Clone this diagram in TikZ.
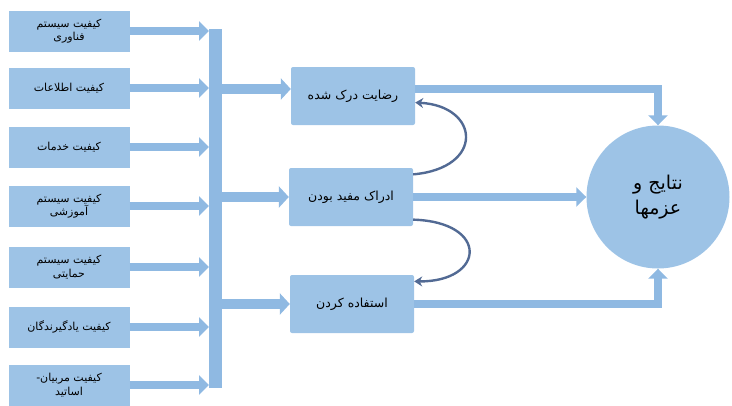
\documentclass[tikz,border=0pt]{standalone}
\usepackage{fontspec}
\newfontfamily\arabicfont[Script=Arabic]{DejaVu Sans}
\TeXXeTstate=1
\usetikzlibrary{arrows.meta}
\definecolor{boxblue}{RGB}{157,195,230}
\definecolor{arrblue}{RGB}{143,185,226}
\definecolor{curveblue}{RGB}{82,106,148}
\newcommand{\fa}[1]{{\arabicfont\beginR #1\endR}}

\begin{document}
\begin{tikzpicture}[x=1pt,y=-1pt]
\tikzstyle{every node}+=[inner sep=0pt]
\tikzstyle{factor}=[fill=boxblue, minimum width=121pt, minimum height=41pt, align=center, font=\fontsize{11}{13.5}\selectfont]
\tikzstyle{stage}=[fill=boxblue, rounded corners=2pt, minimum width=124pt, minimum height=58pt, font=\fontsize{12.5}{15}\selectfont]
\tikzstyle{fat}=[draw=arrblue, line width=8pt, -{Triangle[width=19pt,length=10pt]}]
\tikzstyle{loop}=[draw=curveblue, line width=2.4pt, -{Stealth[width=10pt,length=8pt]}]
\useasboundingbox (0,0) rectangle (732,405);
% left column
\node[factor] (f1) at (69,31) {\fa{کیفیت سیستم}\\\fa{فناوری}};
\node[factor] (f2) at (69,88) {\fa{کیفیت اطلاعات}};
\node[factor] (f3) at (69,147) {\fa{کیفیت خدمات}};
\node[factor] (f4) at (69,206) {\fa{کیفیت سیستم}\\\fa{آموزشی}};
\node[factor] (f5) at (69,267) {\fa{کیفیت سیستم}\\\fa{حمایتی}};
\node[factor] (f6) at (69,327) {\fa{کیفیت یادگیرندگان}};
\node[factor] (f7) at (69,385) {\fa{کیفیت مربیان-}\\\fa{اساتید}};
% middle column
\node[stage] (sat) at (353,96) {\fa{رضایت درک شده}};
\node[stage] (use) at (351,197) {\fa{ادراک مفید بودن}};
\node[stage] (act) at (352,304) {\fa{استفاده کردن}};
% result
\node[circle, fill=boxblue, minimum size=143pt, align=center, font=\fontsize{19}{25}\selectfont] (res) at (658,197) {\fa{نتایج و}\\\fa{عزمها}};
% collecting bar
\coordinate (bartop) at (215,29);
\coordinate (barbot) at (215,388);
\coordinate (barL) at (209,0);
\coordinate (barR) at (221,0);
\coordinate (satY) at (0,89);
\draw[arrblue, line width=13pt] (bartop) -- (barbot);
\foreach \i in {1,...,7}
  \draw[fat] (f\i.east) -- (f\i.east -| barL);
\draw[fat, line width=10pt, -{Triangle[width=21pt,length=10pt]}] (barR |- satY) -- (sat.west |- satY);
\draw[fat, line width=10pt, -{Triangle[width=21pt,length=10pt]}] (barR |- use.west) -- (use.west);
\draw[fat, line width=10pt, -{Triangle[width=21pt,length=10pt]}] (barR |- act.west) -- (act.west);
% to the result
\draw[fat] (sat.east |- satY) -| (res.north);
\draw[fat] (use.east) -- (res.west);
\draw[fat] (act.east) -| (res.south);
% feedback curves
\draw[loop] (use.20) .. controls (485,168) and (480,106) .. (sat.-6);
\draw[loop] (use.-20) .. controls (490,222) and (485,282) .. (act.20);
\end{tikzpicture}
\end{document}
